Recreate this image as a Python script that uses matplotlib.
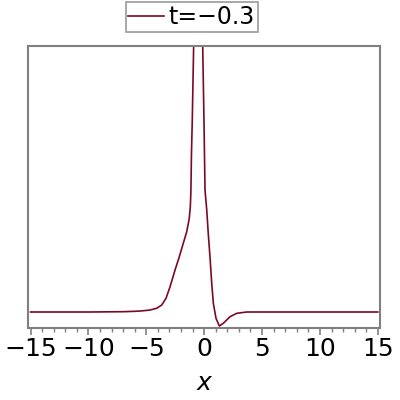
import numpy as np
import matplotlib.pyplot as plt

# curve (y in arbitrary units, baseline = 0)
x_vals = [-15, -10, -7, -6, -5.55, -4.97, -4.68, -4.11, -3.67, -3.30, -2.95,
          -2.52, -2.15, -1.81, -1.51, -1.29, -1.20, -1.15, -1.10, -1.03, -0.91,
          -0.5,
          -0.13, -0.02, 0.07, 0.22, 0.35, 0.50, 0.65, 0.79, 1.02, 1.31, 1.65,
          2.23, 2.81, 3.67, 4.82, 10, 15]
y_vals = [0, 0.0, 0.03, 0.07, 0.1, 0.16, 0.2, 0.37, 0.7, 1.37, 2.53,
          4.2, 5.53, 6.87, 8.03, 9.37, 10.53, 12.0, 15.8, 19.2, 26.7,
          45,
          26.7, 19.2, 12.2, 10.2, 7.87, 5.53, 2.87, 0.87, -0.63, -1.4, -1.13,
          -0.47, -0.13, 0, 0, 0, 0]

xticks = [-15, -10, -5, 0, 5, 10, 15]
xticklabels = ['\u221215', '\u221210', '\u22125', '0', '5', '10', '15']
legend_label = 't=\u22120.3'

fig = plt.figure(figsize=(4, 4), dpi=100)
ax = fig.add_axes([0.071, 0.18, 0.879, 0.706])

line, = ax.plot(x_vals, y_vals, color='#7a0a24', lw=1.2)

ax.set_xlim(-15.19, 15.19)
ax.set_ylim(-1.6, 26.65)

gray = '#808080'
for s in ax.spines.values():
    s.set_color(gray)
    s.set_linewidth(1.5)

ax.set_yticks([])
ax.set_xticks(xticks)
ax.set_xticklabels(xticklabels)
ax.set_xticks(np.arange(-15, 16, 1), minor=True)
ax.tick_params(axis='x', which='major', length=5, width=1.2, color=gray,
               labelsize=18, pad=1.5)
ax.tick_params(axis='x', which='minor', length=3, width=1, color=gray)

ax.set_xlabel('x', fontsize=18, style='italic', labelpad=7)

leg = fig.legend([line], [legend_label], loc='center',
                 bbox_to_anchor=(0.479, 0.9575), fontsize=17, frameon=True,
                 fancybox=False, handlelength=1.5, handletextpad=0.2,
                 borderpad=0.12, borderaxespad=0)
leg.get_frame().set_edgecolor(gray)
leg.get_frame().set_linewidth(1.2)

plt.savefig('out.png')
